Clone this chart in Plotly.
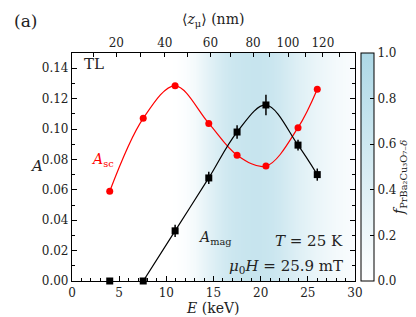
import plotly.graph_objects as go

# ---- data ----
E_sc = [4.0, 7.55, 10.93, 14.5, 17.5, 20.56, 23.96, 26.0]
A_sc = [0.059, 0.107, 0.1284, 0.1037, 0.0828, 0.0756, 0.1009, 0.1262]

E_mag = [4.0, 7.55, 10.93, 14.5, 17.5, 20.56, 23.96, 26.0]
A_mag = [0.0, 0.0, 0.033, 0.0678, 0.098, 0.1158, 0.0894, 0.070]
A_mag_err = [0.0, 0.0, 0.004, 0.004, 0.0044, 0.0068, 0.0036, 0.004]

# fraction of PrBa2Cu3O7 sampled vs energy (background shading)
f_E = [0, 10, 11, 12, 13, 14, 15, 16, 17, 18, 19, 20, 21, 22, 23, 24, 25, 26, 27, 28, 29, 30]
f_val = [0, 0, 0.01, 0.05, 0.14, 0.28, 0.42, 0.54, 0.62, 0.66, 0.68, 0.68, 0.65, 0.58,
         0.49, 0.40, 0.32, 0.25, 0.19, 0.14, 0.10, 0.07]

# top axis: mean implantation depth <z_mu> (nm) at energy E
z_nm = [10, 20, 30, 40, 50, 60, 70, 80, 90, 100, 110, 120, 130]
z_E = [2.3, 4.7, 7.26, 9.84, 12.2, 14.67, 16.85, 19.2, 20.98, 22.9, 24.75, 26.6, 28.4]
z_labels = ["" if z % 20 else str(z) for z in z_nm]

FONT = "DejaVu Serif"
W, H = 416, 317
L, R, T, B = 64, 69, 45, 44

fig = go.Figure()

fig.add_trace(go.Heatmap(
    x=f_E, y=[0, 0.15], z=[f_val, f_val], zsmooth="best",
    colorscale=[[0, "#ffffff"], [1, "#add8e6"]], zmin=0, zmax=1,
    hoverinfo="skip",
    colorbar=dict(x=1 + 6 / 283, xanchor="left", xpad=0, ypad=0,
                  y=0.5, yanchor="middle", len=1, lenmode="fraction",
                  thickness=13, outlinewidth=1, outlinecolor="black",
                  tickvals=[0, 0.2, 0.4, 0.6, 0.8, 1.0], ticktext=["0.0", "0.2", "0.4", "0.6", "0.8", "1.0"],
                  ticks="inside", ticklen=4, tickcolor="black",
                  tickfont=dict(family=FONT, size=12, color="#222")),
))

# red A_sc
fig.add_trace(go.Scatter(x=E_sc, y=A_sc, mode="lines", line=dict(color="red", width=1.2, shape="spline", smoothing=1),
                         hoverinfo="skip", showlegend=False))
fig.add_trace(go.Scatter(x=E_sc, y=A_sc, mode="markers", marker=dict(color="red", size=7, symbol="circle"),
                         showlegend=False, cliponaxis=False))
# black A_mag
fig.add_trace(go.Scatter(x=E_mag[1:], y=A_mag[1:], mode="lines",
                         line=dict(color="black", width=1.2, shape="spline", smoothing=1),
                         hoverinfo="skip", showlegend=False))
fig.add_trace(go.Scatter(x=E_mag, y=A_mag, mode="markers",
                         marker=dict(color="black", size=7, symbol="square"),
                         error_y=dict(type="data", array=A_mag_err, color="black", thickness=1.5, width=0),
                         showlegend=False, cliponaxis=False))
# dummy for top axis
fig.add_trace(go.Scatter(x=[0, 30], y=[None, None], xaxis="x2", yaxis="y", showlegend=False, hoverinfo="skip"))

tickfont = dict(family=FONT, size=12, color="#222")
fig.update_layout(
    width=W, height=H, margin=dict(l=L, r=R, t=T, b=B),
    paper_bgcolor="white", plot_bgcolor="white",
    font=dict(family=FONT, size=12, color="#222"),
    xaxis=dict(range=[0, 30], tickvals=[0, 5, 10, 15, 20, 25, 30], ticks="inside", ticklen=5,
               tickcolor="black", showline=True, linecolor="black", linewidth=1.2, mirror=False,
               showgrid=False, zeroline=False, tickfont=tickfont,
               minor=dict(dtick=1, ticks="inside", ticklen=3, tickcolor="black", showgrid=False)),
    xaxis2=dict(range=[0, 30], overlaying="x", side="top", tickmode="array", tickvals=z_E, ticktext=z_labels,
                ticks="inside", ticklen=4, tickcolor="black", showline=True, linecolor="black", linewidth=1.2,
                showgrid=False, zeroline=False, tickfont=tickfont),
    yaxis=dict(range=[0, 0.15], tickvals=[0, 0.02, 0.04, 0.06, 0.08, 0.10, 0.12, 0.14], tickformat=".2f",
               ticks="inside", ticklen=5, tickcolor="black", showline=True, linecolor="black", linewidth=1.2,
               mirror="ticks", showgrid=False, zeroline=False, tickfont=tickfont,
               minor=dict(dtick=0.01, ticks="inside", ticklen=3, tickcolor="black", showgrid=False)),
)

def px2x(p):
    return (p - L) / (W - L - R)

def py2y(p):
    return (H - B - p) / (H - T - B)

ann = [
    dict(text="(a)", x=px2x(4), y=py2y(13), xanchor="left", font=dict(size=17)),
    dict(text="⟨<i>z</i><sub>μ</sub>⟩ (nm)", x=px2x(205), y=py2y(12), font=dict(size=14)),
    dict(text="<i>E</i> (keV)", x=px2x(205), y=py2y(300), font=dict(size=14)),
    dict(text="<i>A</i>", x=px2x(20), y=py2y(158), font=dict(size=15)),
    dict(text="<i>f</i><sub>PrBa₂Cu₃O₇₋<i>δ</i></sub>", x=px2x(403), y=py2y(170), textangle=-90, font=dict(size=14)),
    dict(text="TL", x=px2x(74), y=py2y(56), xanchor="left", font=dict(size=15)),
    dict(text="<i>A</i><sub>sc</sub>", x=px2x(81), y=py2y(152), xanchor="left", font=dict(size=14, color="red")),
    dict(text="<i>A</i><sub>mag</sub>", x=px2x(188), y=py2y(230), xanchor="left", font=dict(size=14)),
    dict(text="<i>T</i> = 25 K", x=px2x(337), y=py2y(233), xanchor="right", font=dict(size=15)),
    dict(text="<i>μ</i><sub>0</sub><i>H</i> = 25.9 mT", x=px2x(337), y=py2y(258), xanchor="right", font=dict(size=15)),
]
for a in ann:
    a.update(xref="paper", yref="paper", showarrow=False, yanchor="middle")
    a["font"] = dict(family=FONT, color=a["font"].get("color", "#222"), size=a["font"]["size"])
fig.update_layout(annotations=ann)

fig.write_html("out.html")
